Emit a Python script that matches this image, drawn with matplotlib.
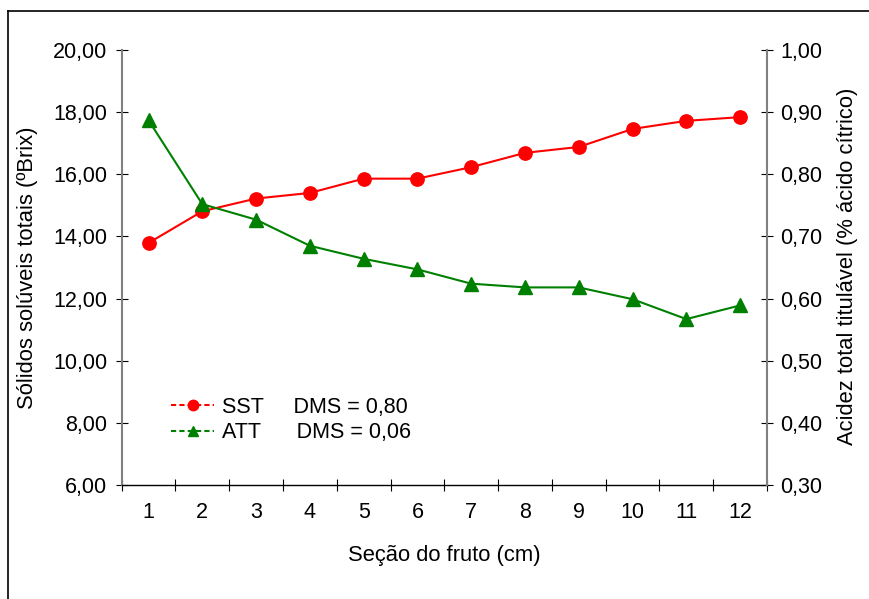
import matplotlib
matplotlib.use("Agg")
import matplotlib.pyplot as plt
from matplotlib.lines import Line2D
from matplotlib.ticker import FuncFormatter, FixedLocator
import numpy as np

plt.rcParams['font.family'] = ['Liberation Sans', 'DejaVu Sans']

secao = [1, 2, 3, 4, 5, 6, 7, 8, 9, 10, 11, 12]
sst = [13.79, 14.81, 15.22, 15.40, 15.86, 15.86, 16.23, 16.69, 16.88, 17.46, 17.72, 17.84]
att = [0.887, 0.752, 0.727, 0.685, 0.664, 0.647, 0.624, 0.618, 0.618, 0.599, 0.567, 0.589]

sst_label = "SST     DMS = 0,80"
att_label = "ATT      DMS = 0,06"
xlabel = "Seção do fruto (cm)"
ylabel_left = "Sólidos solúveis totais (ºBrix)"
ylabel_right = "Acidez total titulável (% ácido cítrico)"

FS = 15.5
fig = plt.figure(figsize=(8.70, 5.99), dpi=100)
ax = fig.add_axes([0.1398, 0.1903, 0.7418, 0.7262])
ax2 = ax.twinx()

# figure frame
fig.add_artist(Line2D([8/870, 8/870], [-0.01, 1 - 11/599], transform=fig.transFigure,
                      color='black', lw=1.2))
fig.add_artist(Line2D([8/870, 1.01], [1 - 11/599, 1 - 11/599], transform=fig.transFigure,
                      color='black', lw=1.2))

ax.plot(secao, sst, color='#FF0000', lw=1.5, marker='o', markersize=9.6, zorder=3)
ax2.plot(secao, att, color='#008000', lw=1.5, marker='^', markersize=10, zorder=3)

ax.set_xlim(0.5, 12.5)
ax.set_ylim(6, 20)
ax2.set_ylim(0.30, 1.00)

ax.set_yticks(np.arange(6, 20.01, 2))
ax2.set_yticks(np.arange(0.30, 1.001, 0.10))
ax.yaxis.set_major_formatter(FuncFormatter(lambda v, p: f"{v:.2f}".replace('.', ',')))
ax2.yaxis.set_major_formatter(FuncFormatter(lambda v, p: f"{v:.2f}".replace('.', ',')))

ax.xaxis.set_major_locator(FixedLocator(np.arange(0.5, 12.6, 1)))
ax.xaxis.set_minor_locator(FixedLocator(secao))
ax.set_xticklabels([])
ax.set_xticks(secao, [str(s) for s in secao], minor=True)
ax.tick_params(axis='x', which='major', direction='inout', length=8, width=0.8, color='black')
ax.tick_params(axis='x', which='minor', length=0, pad=12.5, labelsize=FS)

ax.tick_params(axis='y', direction='inout', length=8, width=0.8, pad=6.5, labelsize=FS)
ax2.tick_params(axis='y', direction='inout', length=8, width=0.8, pad=5.5, labelsize=FS)

for a in (ax, ax2):
    a.spines['top'].set_visible(False)
    a.spines['left'].set_color('#808080')
    a.spines['right'].set_color('#808080')
    a.spines['left'].set_linewidth(1.5)
    a.spines['right'].set_linewidth(1.5)
    a.spines['bottom'].set_color('black')
    a.spines['bottom'].set_linewidth(1.0)
ax.spines['right'].set_visible(False)
ax2.spines['left'].set_visible(False)
ax2.spines['bottom'].set_visible(False)

fig.text(28/870, 1 - 268/599, ylabel_left, rotation=90, ha='center', va='center', fontsize=FS + 0.3)
fig.text(848/870, 1 - 266/599, ylabel_right, rotation=90, ha='center', va='center', fontsize=FS + 0.3)
fig.text(444/870, 1 - 555/599, xlabel, ha='center', va='center', fontsize=FS + 0.3)

h1 = Line2D([], [], color='#FF0000', lw=1.5, linestyle=(0, (2.5, 1.5)), marker='o', markersize=7.5)
h2 = Line2D([], [], color='#008000', lw=1.5, linestyle=(0, (2.5, 1.5)), marker='^', markersize=7.5)
leg = ax.legend([h1, h2], [sst_label, att_label], loc='upper left',
                bbox_to_anchor=(171/870, 1 - 397/599), bbox_transform=fig.transFigure,
                frameon=False, fontsize=FS, handlelength=2.0, handletextpad=0.35,
                labelspacing=0.2, borderpad=0, borderaxespad=0)

fig.savefig("out.png", dpi=100)
